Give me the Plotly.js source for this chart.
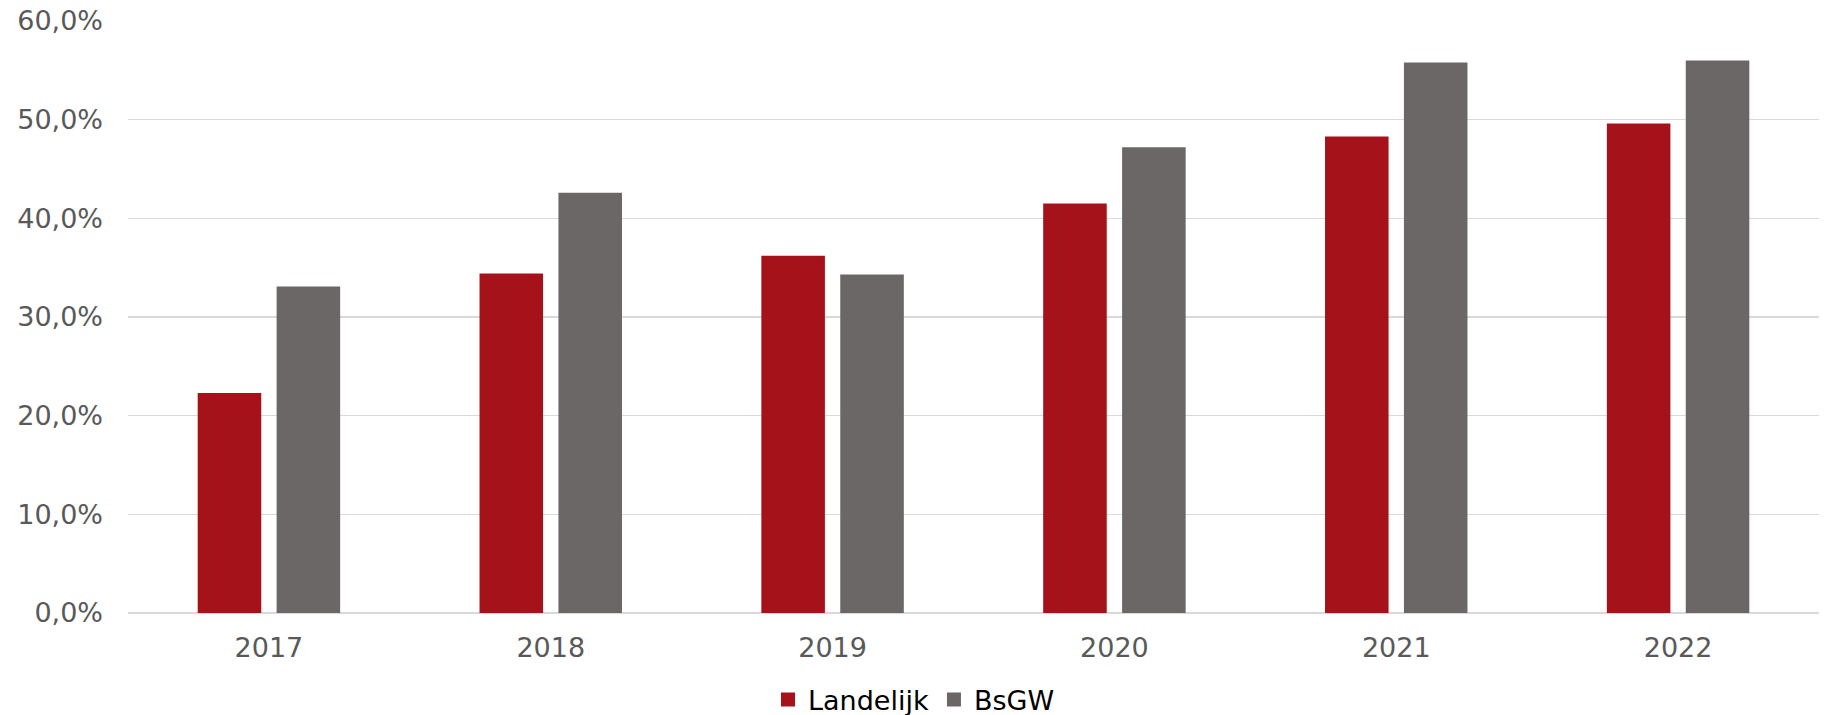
<!DOCTYPE html>
<html>
<head>
<meta charset="utf-8">
<script src="https://cdn.plot.ly/plotly-3.0.1.min.js"></script>
<style>html,body{margin:0;padding:0;background:#fff;}#chart{width:1828px;height:715px;}</style>
</head>
<body>
<div id="chart"></div>
<script>
var years = ['2017', '2018', '2019', '2020', '2021', '2022'];
var landelijk = [22.2, 34.3, 36.1, 41.4, 48.2, 49.5];
var bsgw = [33.0, 42.5, 34.2, 47.1, 55.7, 55.9];
var yTicks = [0, 10, 20, 30, 40, 50, 60];
var yTickText = yTicks.map(function (v) { return v.toFixed(1).replace('.', ',') + '%'; });

var font = 'DejaVu Sans, Verdana, sans-serif';
var traces = [
  {type: 'bar', name: 'Landelijk', x: years, y: landelijk,
   marker: {color: '#A6121A', line: {color: '#A6121A', width: 2}}, hoverinfo: 'skip'},
  {type: 'bar', name: 'BsGW', x: years, y: bsgw,
   marker: {color: '#6B6766', line: {color: '#6B6766', width: 2}}, hoverinfo: 'skip'}
];
var layout = {
  width: 1828, height: 715,
  margin: {l: 128, r: 9, t: 21, b: 102, autoexpand: false},
  paper_bgcolor: '#fff', plot_bgcolor: '#fff',
  barmode: 'group', bargap: 0.44, bargroupgap: 0.22,
  font: {family: font, size: 27, color: '#595959'},
  xaxis: {type: 'category', showgrid: false, zeroline: false, showline: false, automargin: false,
          ticks: '', tickfont: {size: 27, color: '#595959'}, ticklabelstandoff: 16},
  yaxis: {range: [0, 60], tickvals: yTicks, ticktext: yTickText, automargin: false,
          showgrid: true, gridcolor: '#D9D9D9', gridwidth: 1.5, zeroline: true,
          zerolinecolor: '#D9D9D9', zerolinewidth: 1.5, showline: false, ticks: '',
          tickfont: {size: 27, color: '#595959'}, ticklabelstandoff: 24},
  showlegend: true,
  legend: {orientation: 'h', x: 0.5, xref: 'container', xanchor: 'center',
           y: 0.021, yref: 'container', yanchor: 'middle',
           font: {size: 27, color: '#000'}, itemwidth: 30, traceorder: 'normal'}
};
Plotly.newPlot('chart', traces, layout, {staticPlot: true});
</script>
</body>
</html>
